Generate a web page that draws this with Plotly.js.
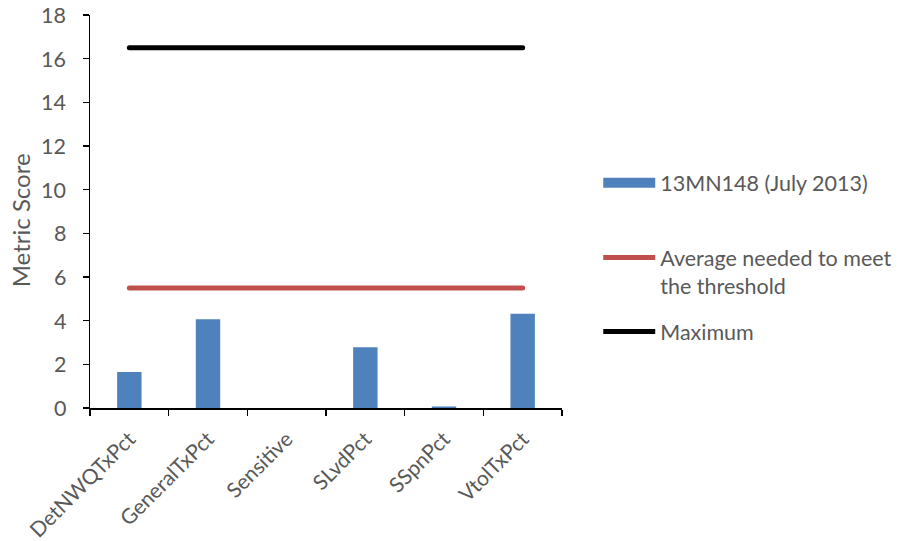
<!DOCTYPE html>
<html>
<head>
<meta charset="utf-8">
<script src="https://cdn.plot.ly/plotly-3.0.1.min.js"></script>
<style>
  html, body { margin: 0; padding: 0; background: #ffffff; }
  #chart { width: 903px; height: 541px; }
</style>
</head>
<body>
<div id="chart"></div>
<script>
// Metric categories along the x axis
const categories = ["DetNWQTxPct", "GeneralTxPct", "Sensitive", "SLvdPct", "SSpnPct", "VtolTxPct"];
// Scores for the sampled site
const siteScores = [1.65, 4.07, 0, 2.78, 0.07, 4.32];
// Average score per metric needed to meet the threshold
const thresholdAverage = [5.5, 5.5, 5.5, 5.5, 5.5, 5.5];
// Maximum possible score per metric
const maximumScore = [16.5, 16.5, 16.5, 16.5, 16.5, 16.5];
const yTicks = [0, 2, 4, 6, 8, 10, 12, 14, 16, 18];

const siteName = "13MN148 (July 2013)";
const yTitle = "Metric Score";
const fontFamily = "Lato, 'Open Sans', sans-serif";
const textGrey = "#595959";
const barBlue = "#4f81bd";

const traces = [
  {
    type: "bar",
    name: siteName,
    x: categories,
    y: siteScores,
    marker: { color: barBlue },
    showlegend: false
  },
  // legend key for the bars: a wide flat swatch
  {
    type: "scatter",
    mode: "lines",
    name: siteName,
    x: [categories[0]],
    y: [null],
    line: { color: barBlue, width: 14 },
    legend: "legend",
    hoverinfo: "skip"
  },
  {
    type: "scatter",
    mode: "lines",
    name: "Average needed to meet<br>the threshold",
    x: categories,
    y: thresholdAverage,
    line: { color: "#c0504d", width: 5 },
    legend: "legend2"
  },
  {
    type: "scatter",
    mode: "lines",
    name: "Maximum",
    x: categories,
    y: maximumScore,
    line: { color: "#000000", width: 5 },
    legend: "legend3"
  }
];

// each legend entry is placed on its own, relative to the whole figure
function legendBox(yPaper) {
  return {
    xref: "container",
    x: 0.6625,
    xanchor: "left",
    y: yPaper,
    yanchor: "top",
    valign: "top",
    itemwidth: 52,
    borderwidth: 0,
    font: { family: fontFamily, size: 21.5, color: textGrey },
    bgcolor: "rgba(0,0,0,0)"
  };
}

// y tick labels sit a little further from the axis than the default spacing
const yTickLabels = yTicks.map(function (v) {
  return {
    text: String(v),
    xref: "paper",
    yref: "y",
    x: 0,
    y: v,
    xanchor: "right",
    yanchor: "middle",
    xshift: -22,
    showarrow: false,
    font: { family: fontFamily, size: 21.5, color: textGrey }
  };
});

const layout = {
  width: 903,
  height: 541,
  margin: { l: 90, r: 341, t: 15, b: 133, autoexpand: false },
  paper_bgcolor: "#ffffff",
  plot_bgcolor: "#ffffff",
  font: { family: fontFamily, size: 21, color: textGrey },
  bargap: 0.69,
  showlegend: true,
  legend: legendBox(0.625),
  legend2: legendBox(0.435),
  legend3: legendBox(0.247),
  xaxis: {
    type: "category",
    tickson: "boundaries",
    ticks: "outside",
    ticklen: 6,
    tickwidth: 1.5,
    tickcolor: "#000000",
    tickangle: -45,
    ticklabelstandoff: 9,
    showline: true,
    linecolor: "#000000",
    linewidth: 1.5,
    showgrid: false,
    zeroline: false,
    tickfont: { family: fontFamily, size: 21, color: textGrey }
  },
  yaxis: {
    range: [0, 18],
    tickvals: yTicks,
    showticklabels: false,
    ticks: "outside",
    ticklen: 6,
    tickwidth: 1.5,
    tickcolor: "#000000",
    showline: true,
    linecolor: "#000000",
    linewidth: 1.5,
    showgrid: false,
    zeroline: false
  },
  annotations: yTickLabels.concat([
    {
      text: yTitle,
      xref: "paper",
      yref: "paper",
      x: -0.148,
      y: 0.478,
      xanchor: "center",
      yanchor: "middle",
      textangle: -90,
      showarrow: false,
      font: { family: fontFamily, size: 24, color: textGrey }
    }
  ])
};

Plotly.newPlot("chart", traces, layout, { displayModeBar: false, staticPlot: true }).then(function (gd) {
  // rounded ends on the reference lines and their legend keys
  gd.querySelectorAll(".scatterlayer .js-line").forEach(function (p) {
    p.style.strokeLinecap = "round";
  });
  gd.querySelectorAll(".legend .js-line").forEach(function (p, i) {
    if (i > 0) p.style.strokeLinecap = "round";
  });
});
</script>
</body>
</html>
